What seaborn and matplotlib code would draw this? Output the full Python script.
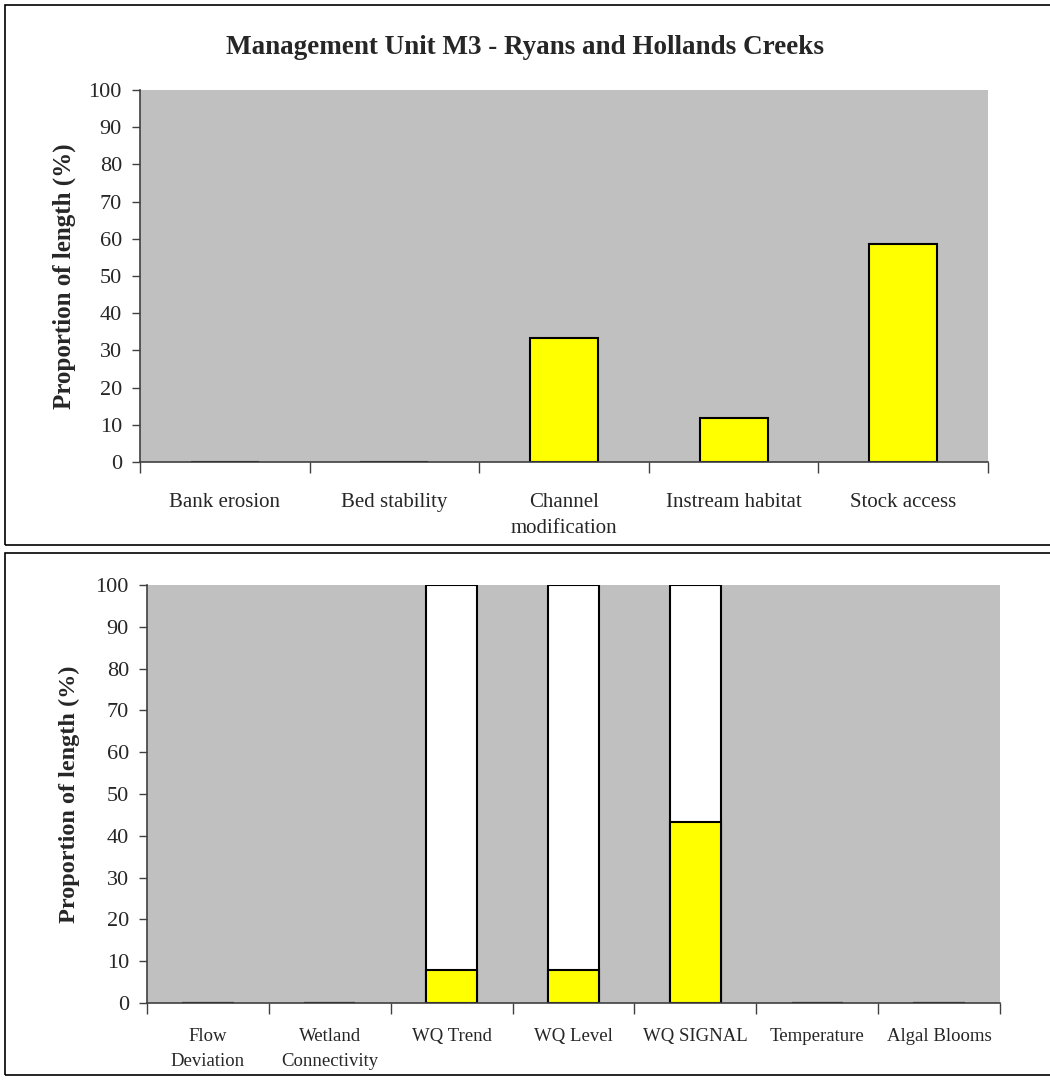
import numpy as np
import pandas as pd
import seaborn as sns
import matplotlib.pyplot as plt
from matplotlib.patches import Rectangle

# Data
top_categories = ['Bank erosion', 'Bed stability', 'Channel\nmodification',
                  'Instream habitat', 'Stock access']
top_values = [0, 0, 33.2, 11.8, 58.6]

bottom_categories = ['Flow\nDeviation', 'Wetland\nConnectivity', 'WQ Trend', 'WQ Level',
                     'WQ SIGNAL', 'Temperature', 'Algal Blooms']
bottom_yellow = [0, 0, 8, 8, 43.3, 0, 0]
bottom_white = [0, 0, 92, 92, 56.7, 0, 0]

title = 'Management Unit M3 - Ryans and Hollands Creeks'
ylabel = 'Proportion of length (%)'
yticks = list(range(0, 101, 10))

sns.set_theme(style='white')
plt.rcParams['font.family'] = ['Liberation Serif', 'DejaVu Serif']

fig = plt.figure(figsize=(10.5, 10.86), dpi=100)

# panel frames
for y0, y1 in [(5, 545), (553, 1075)]:
    fig.patches.append(Rectangle((5 / 1050, 1 - y1 / 1086), 1.0, (y1 - y0) / 1086,
                                 transform=fig.transFigure, fill=False,
                                 edgecolor='black', linewidth=1.2))


def style_axes(ax, labels, label_size, label_pad, line_sp, ylab_x, ylab_size):
    n = len(labels)
    ax.set_facecolor('#C0C0C0')
    ax.set_xlim(-0.5, n - 0.5)
    ax.set_ylim(0, 100)
    ax.set_yticks(yticks)
    ax.tick_params(axis='y', which='major', direction='out', length=6, width=1,
                   color='#404040', labelsize=16, left=True, pad=7)
    ax.set_xticks(range(n), labels, linespacing=line_sp)
    ax.set_xticks(np.arange(-0.5, n, 1.0), minor=True)
    ax.tick_params(axis='x', which='minor', direction='out', length=8, width=1,
                   color='#404040', bottom=True)
    ax.tick_params(axis='x', which='major', length=0, labelsize=label_size, pad=label_pad)
    for s in ['top', 'right']:
        ax.spines[s].set_visible(False)
    for s in ['left', 'bottom']:
        ax.spines[s].set_color('#404040')
        ax.spines[s].set_linewidth(1.2)
    ax.set_xlabel('')
    ax.set_ylabel(ylabel, fontsize=ylab_size, fontweight='bold')
    ax.yaxis.set_label_coords(ylab_x, 0.5)


# top chart
ax1 = fig.add_axes([140 / 1050, 1 - 462 / 1086, 848 / 1050, 372 / 1086])
df_top = pd.DataFrame({'category': top_categories, 'value': top_values})
sns.barplot(data=df_top, x='category', y='value', order=top_categories,
            color='#FFFF00', saturation=1, width=0.4, edgecolor='black',
            linewidth=1.5, ax=ax1)
style_axes(ax1, top_categories, 15, 22, 1.55, -0.075, 18)
fig.text(0.5, 1 - 47 / 1086, title, ha='center', va='center',
         fontsize=19.5, fontweight='bold')

# bottom chart (stacked: white drawn to full height, yellow on top of it)
ax2 = fig.add_axes([147 / 1050, 1 - 1003 / 1086, 853 / 1050, 418 / 1086])
df_bot = pd.DataFrame({'category': bottom_categories,
                       'yellow': bottom_yellow,
                       'total': np.add(bottom_yellow, bottom_white)})
sns.barplot(data=df_bot, x='category', y='total', order=bottom_categories,
            color='white', saturation=1, width=0.42, edgecolor='black',
            linewidth=1.5, ax=ax2)
sns.barplot(data=df_bot, x='category', y='yellow', order=bottom_categories,
            color='#FFFF00', saturation=1, width=0.42, edgecolor='black',
            linewidth=1.5, ax=ax2)
style_axes(ax2, bottom_categories, 13.5, 18, 1.65, -0.078, 17.5)

fig.savefig('out.png', dpi=100)
